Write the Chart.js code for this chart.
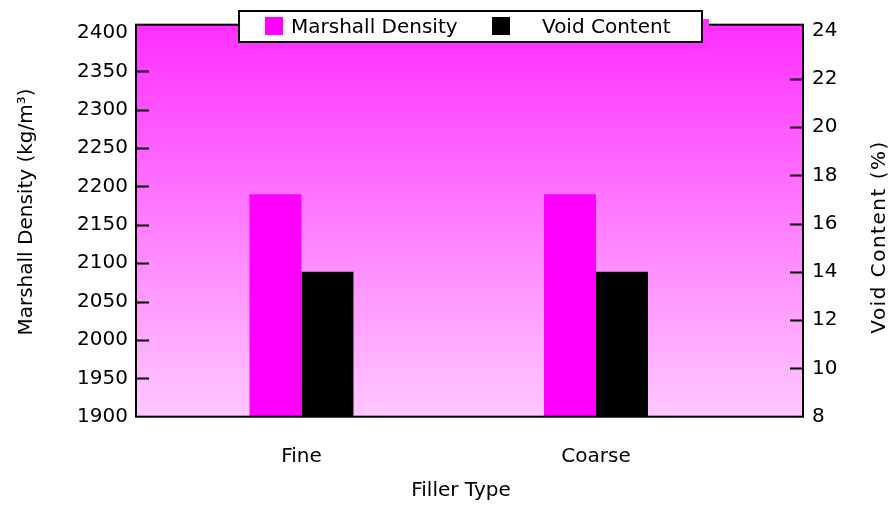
<!DOCTYPE html>
<html>
<head>
<meta charset="utf-8">
<script src="https://cdn.jsdelivr.net/npm/chart.js@4.4.1/dist/chart.umd.min.js"></script>
<style>
  html, body { margin: 0; padding: 0; background: #ffffff; }
  #c { display: block; }
</style>
</head>
<body>
<canvas id="c" width="895" height="508"></canvas>
<script>
// ---- data ----
const categories = ['Fine', 'Coarse'];
const marshallDensity = [2190, 2190];   // kg/m³
const voidContent = [14.0, 14.0];       // %
const densityTicks = [1900, 1950, 2000, 2050, 2100, 2150, 2200, 2250, 2300, 2350, 2400];
const voidTicks = [8, 10, 12, 14, 16, 18, 20, 22, 24];

const seriesNames = ['Marshall Density', 'Void Content'];
const seriesColors = ['#ff00ff', '#000000'];
const axisTitles = { x: 'Filler Type', left: 'Marshall Density (kg/m³)', right: 'Void Content (%)' };

const FONT = "'DejaVu Sans', 'Liberation Sans', sans-serif";
Chart.defaults.font.family = FONT;
Chart.defaults.font.size = 20;
Chart.defaults.color = '#000000';

// gradient fill behind the bars
const plotBackground = {
  id: 'plotBackground',
  beforeDatasetsDraw(chart) {
    const { ctx, chartArea: a } = chart;
    const g = ctx.createLinearGradient(0, a.top, 0, a.bottom);
    g.addColorStop(0, '#ff30ff');
    g.addColorStop(1, '#ffc8ff');
    ctx.save();
    ctx.fillStyle = g;
    ctx.fillRect(a.left, a.top, a.right - a.left, a.bottom - a.top);
    ctx.restore();
  }
};

// frame around the plot and inward tick marks on both value axes
const frameAndTicks = {
  id: 'frameAndTicks',
  afterDatasetsDraw(chart) {
    const { ctx, chartArea: a, scales } = chart;
    ctx.save();
    ctx.strokeStyle = '#000000';
    ctx.lineWidth = 2;
    ctx.strokeRect(a.left, a.top, a.right - a.left, a.bottom - a.top);
    const len = 13;
    ctx.beginPath();
    densityTicks.slice(1, -1).forEach(v => {
      const y = Math.round(scales.y.getPixelForValue(v)) + 0.5;
      ctx.moveTo(a.left, y); ctx.lineTo(a.left + len, y);
    });
    voidTicks.slice(1, -1).forEach(v => {
      const y = Math.round(scales.y1.getPixelForValue(v)) + 0.5;
      ctx.moveTo(a.right, y); ctx.lineTo(a.right - len, y);
    });
    ctx.lineWidth = 2;
    ctx.stroke();
    ctx.restore();
  }
};

// axis titles: the two value-axis titles read bottom to top
const axisTitleText = {
  id: 'axisTitleText',
  afterDraw(chart) {
    const { ctx } = chart;
    ctx.save();
    ctx.fillStyle = '#000000';
    ctx.font = `20px ${FONT}`;
    ctx.textAlign = 'center';
    ctx.textBaseline = 'middle';
    ctx.fillText(axisTitles.x, 461, 491);
    [[27, 212, axisTitles.left, '0px'], [880, 237, axisTitles.right, '1.5px']].forEach(([x, y, t, sp]) => {
      ctx.save();
      ctx.letterSpacing = sp;
      ctx.translate(x, y);
      ctx.rotate(-Math.PI / 2);
      ctx.fillText(t, 0, 0);
      ctx.restore();
    });
    ctx.restore();
  }
};

// boxed legend with a magenta drop shadow
const boxLegend = {
  id: 'boxLegend',
  afterDraw(chart) {
    const { ctx } = chart;
    const bx = 239, by = 11, bw = 463, bh = 31;
    ctx.save();
    ctx.fillStyle = '#ff33ff';
    ctx.fillRect(bx + 7, by + 8, bw, bh);
    ctx.fillStyle = '#ffffff';
    ctx.fillRect(bx, by, bw, bh);
    ctx.strokeStyle = '#000000';
    ctx.lineWidth = 2;
    ctx.strokeRect(bx, by, bw, bh);
    const items = [
      { sq: 265, tx: 291 },
      { sq: 492, tx: 542 }
    ];
    ctx.font = `20px ${FONT}`;
    ctx.textBaseline = 'middle';
    ctx.textAlign = 'left';
    chart.data.datasets.forEach((ds, i) => {
      ctx.fillStyle = ds.backgroundColor;
      ctx.fillRect(items[i].sq, 17, 18, 18);
      ctx.fillStyle = '#000000';
      ctx.fillText(ds.label, items[i].tx, 28);
    });
    ctx.restore();
  }
};

const toPoints = vals => vals.map((v, i) => ({ x: i, y: v }));
const plain = v => String(v);

new Chart(document.getElementById('c'), {
  type: 'bar',
  data: {
    datasets: [
      { label: seriesNames[0], data: toPoints(marshallDensity), backgroundColor: seriesColors[0], yAxisID: 'y' },
      { label: seriesNames[1], data: toPoints(voidContent), backgroundColor: seriesColors[1], yAxisID: 'y1' }
    ]
  },
  options: {
    responsive: false,
    animation: false,
    devicePixelRatio: 1,
    layout: { padding: { top: 24.7, left: 0, right: 0, bottom: 0 } },
    categoryPercentage: 0.353,
    barPercentage: 1,
    plugins: { legend: { display: false }, tooltip: { enabled: false } },
    scales: {
      x: {
        type: 'linear',
        offset: false,
        min: -0.562,
        max: 1.703,
        afterBuildTicks: s => { s.ticks = categories.map((_, i) => ({ value: i })); },
        ticks: { callback: v => categories[v] ?? '', padding: 28, autoSkip: false, maxRotation: 0 },
        grid: { display: false, drawTicks: false, offset: false },
        border: { display: false },
        afterFit: s => { s.height = 91.3; }
      },
      y: {
        position: 'left',
        min: 1900,
        max: 2410.8,
        afterBuildTicks: s => { s.ticks = densityTicks.map(v => ({ value: v })); },
        ticks: { padding: 8, callback: plain },
        grid: { display: false, drawTicks: false },
        border: { display: false },
        afterFit: s => { s.width = 136; }
      },
      y1: {
        position: 'right',
        min: 8,
        max: 24.24,
        afterBuildTicks: s => { s.ticks = voidTicks.map(v => ({ value: v })); },
        ticks: { padding: 9, callback: plain },
        grid: { display: false, drawTicks: false },
        border: { display: false },
        afterFit: s => { s.width = 92; }
      }
    }
  },
  plugins: [plotBackground, frameAndTicks, axisTitleText, boxLegend]
});
</script>
</body>
</html>
